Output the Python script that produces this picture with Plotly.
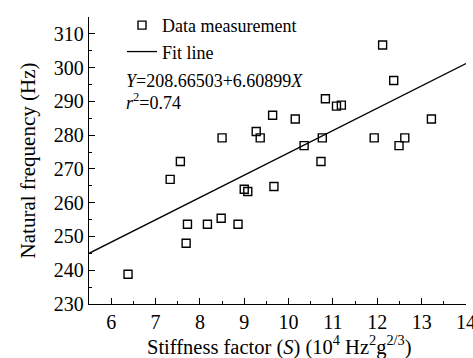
import plotly.graph_objects as go
import numpy as np

stiffness = [6.38, 7.33, 7.56, 7.69, 7.72, 8.17, 8.48, 8.50, 8.86, 9.00, 9.08, 9.67,
             12.12, 12.37, 10.83, 11.08, 11.19, 9.64, 10.15, 9.27, 9.36, 10.35,
             10.76, 10.73, 11.93, 12.49, 12.62, 13.22]
frequency = [238.8, 266.9, 272.2, 248.0, 253.6, 253.6, 255.4, 279.2, 253.6, 264.0, 263.3, 264.8,
             306.7, 296.2, 290.8, 288.6, 288.9, 285.9, 284.8, 281.1, 279.2, 276.9,
             279.2, 272.2, 279.2, 276.9, 279.2, 284.8]
intercept = 208.66503
slope = 6.60899
fit_x = [5.5, 14.0]
fit_y = [intercept + slope * v for v in fit_x]

FONT = "Liberation Serif"

fig = go.Figure()
fig.add_trace(go.Scatter(
    x=stiffness, y=frequency, mode="markers", name="Data measurement",
    marker=dict(symbol="square-open", size=8, color="black", line=dict(width=1.4, color="black")),
))
fig.add_trace(go.Scatter(
    x=fit_x, y=fit_y, mode="lines", name="Fit line",
    line=dict(color="black", width=1.3),
))

fig.add_annotation(xref="paper", yref="paper", x=(124 - 89) / 377, y=(304 - 76) / 293,
                   xanchor="left", yanchor="middle", showarrow=False,
                   text="<i>Y</i>=208.66503+6.60899<i>X</i>", font=dict(family=FONT, size=18, color="black"))
fig.add_annotation(xref="paper", yref="paper", x=(124 - 89) / 377, y=(304 - 97) / 293,
                   xanchor="left", yanchor="middle", showarrow=False,
                   text="<i>r</i><sup>2</sup>=0.74", font=dict(family=FONT, size=18, color="black"))
# x-axis title placed as an annotation below the tick labels
fig.add_annotation(xref="paper", yref="paper", x=(279 - 89) / 377, y=-(346 - 304) / 293,
                   xanchor="center", yanchor="middle", showarrow=False,
                   text="Stiffness factor (<i>S</i>) (10<sup>4</sup> Hz<sup>2</sup>g<sup>2/3</sup>)",
                   font=dict(family=FONT, size=20.5, color="black"))

fig.update_layout(
    width=473, height=358,
    margin=dict(l=89, r=7, t=11, b=54),
    paper_bgcolor="white", plot_bgcolor="white",
    font=dict(family=FONT, size=20, color="black"),
    showlegend=True,
    legend=dict(x=(122 - 89) / 377, y=1.035, xanchor="left", yanchor="top",
                bgcolor="rgba(0,0,0,0)", font=dict(family=FONT, size=18),
                tracegroupgap=0, itemwidth=30),
    xaxis=dict(range=[5.5, 14], dtick=1, tick0=6, showgrid=False, zeroline=False,
               showline=True, linecolor="black", linewidth=1.3, automargin=False,
               ticks="inside", ticklen=6, tickwidth=1.3, tickcolor="black",
               ticklabeloverflow="allow",
               minor=dict(dtick=0.5, tick0=5.5, ticks="inside", ticklen=3, tickwidth=1.3, tickcolor="black"),
               tickfont=dict(size=20)),
    yaxis=dict(range=[230, 315], dtick=10, tick0=230, showgrid=False, zeroline=False,
               showline=True, linecolor="black", linewidth=1.3, automargin=False,
               ticks="inside", ticklen=6, tickwidth=1.3, tickcolor="black",
               minor=dict(dtick=5, tick0=230, ticks="inside", ticklen=3, tickwidth=1.3, tickcolor="black"),
               title=dict(text="Natural frequency (Hz)", font=dict(size=21), standoff=12),
               tickfont=dict(size=20)),
)

fig.write_html("out.html")
